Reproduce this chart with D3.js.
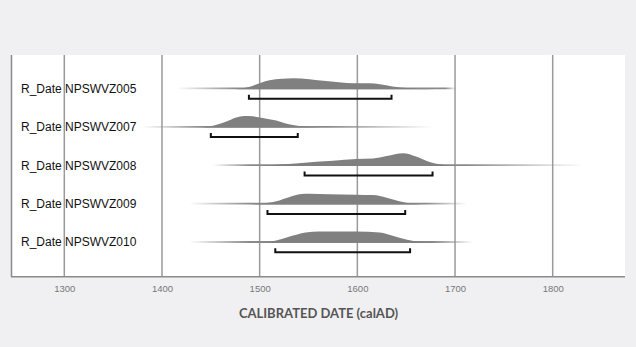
<!DOCTYPE html>
<html>
<head>
<meta charset="utf-8">
<script src="https://cdn.jsdelivr.net/npm/d3@7"></script>
<style>
  body { margin: 0; background: #f0f0f2; }
  svg { display: block; }
</style>
</head>
<body>
<div id="chart"></div>
<script>
// sample labels
const labels = ["R_Date NPSWVZ005", "R_Date NPSWVZ007", "R_Date NPSWVZ008", "R_Date NPSWVZ009", "R_Date NPSWVZ010"];

// 95% ranges (calAD)
const rangeStart = [1489, 1450, 1546, 1508, 1516];
const rangeEnd   = [1635, 1539, 1677, 1649, 1654];

// faint tails of each distribution
const tailStart = [1415, 1380, 1452, 1428, 1428];
const tailEnd   = [1701, 1677, 1831, 1712, 1718];

// probability densities [year, relative prob]
const dens005 = [[1476,0],[1490,0.19],[1500,0.46],[1510,0.69],[1523,0.81],[1534,0.85],[1551,0.77],[1568,0.62],[1589,0.48],[1602,0.46],[1612,0.46],[1623,0.38],[1636,0.21],[1653,0.08],[1671,0.02],[1690,0]];
const dens007 = [[1441,0],[1456,0.21],[1466,0.46],[1476,0.77],[1484,0.89],[1493,0.87],[1503,0.73],[1517,0.54],[1530,0.25],[1544,0.08],[1558,0.02],[1570,0]];
const dens008 = [[1490,0],[1500,0.02],[1520,0.12],[1540,0.22],[1558,0.32],[1575,0.41],[1599,0.54],[1616,0.58],[1630,0.77],[1647,0.98],[1660,0.73],[1674,0.31],[1688,0.10],[1700,0.02],[1712,0]];
const dens009 = [[1490,0],[1500,0.05],[1517,0.25],[1530,0.56],[1541,0.79],[1551,0.82],[1571,0.79],[1599,0.75],[1616,0.72],[1630,0.52],[1643,0.25],[1657,0.05],[1670,0]];
const dens010 = [[1490,0],[1500,0.02],[1517,0.18],[1530,0.46],[1547,0.79],[1561,0.87],[1599,0.87],[1623,0.79],[1637,0.52],[1651,0.23],[1664,0.08],[1678,0]];
const densities = [dens005, dens007, dens008, dens009, dens010];

const tickYears = [1300, 1400, 1500, 1600, 1700, 1800];
const axisTitle = "CALIBRATED DATE (calAD)";

function drawChart() {
    const W = 636, H = 347;
    const plot = { left: 11, right: 625, top: 55, bottom: 277 };

    const svg = d3.select("#chart").append("svg")
        .attr("width", W)
        .attr("height", H);

    svg.append("rect").attr("width", W).attr("height", H).attr("fill", "#f0f0f2");
    svg.append("rect")
        .attr("x", plot.left).attr("y", plot.top)
        .attr("width", plot.right - plot.left).attr("height", plot.bottom - plot.top)
        .attr("fill", "#fff");

    const xScale = d3.scaleLinear().domain([1300, 1800]).range([64.3, 552.7]);
    const yScale = d3.scalePoint().domain(labels).range([plot.top, plot.bottom]).padding(0.89);
    const hScale = d3.scaleLinear().domain([0, 1]).range([0, 13]);

    // grid lines
    svg.append("g")
        .selectAll("line")
        .data(tickYears)
        .enter()
        .append("line")
        .attr("x1", d => xScale(d)).attr("x2", d => xScale(d))
        .attr("y1", plot.top).attr("y2", plot.bottom)
        .attr("stroke", "#9a9a9a")
        .attr("stroke-width", 1.5);

    // left border and bottom axis line
    svg.append("line")
        .attr("x1", plot.left + 0.5).attr("x2", plot.left + 0.5)
        .attr("y1", plot.top).attr("y2", plot.bottom)
        .attr("stroke", "#8a8a8a").attr("stroke-width", 1.5);
    svg.append("line")
        .attr("x1", plot.left).attr("x2", plot.right)
        .attr("y1", plot.bottom - 0.3).attr("y2", plot.bottom - 0.3)
        .attr("stroke", "#8a8a8a").attr("stroke-width", 1.5);

    // x axis tick labels
    const xAxis = d3.axisBottom(xScale).tickValues(tickYears).tickSize(0).tickPadding(9).tickFormat(d3.format("d"));
    const gx = svg.append("g")
        .attr("transform", `translate(0,${plot.bottom - 0.3})`)
        .call(xAxis);
    gx.select(".domain").remove();
    gx.selectAll("text")
        .attr("font-family", "'Liberation Sans', Arial, sans-serif")
        .attr("font-size", 9.5)
        .attr("fill", "#777");

    const defs = svg.append("defs");

    const area = d3.area()
        .x(d => xScale(d[0]))
        .y0(0)
        .y1(d => -hScale(d[1]))
        .curve(d3.curveMonotoneX);

    labels.forEach((lab, i) => {
        const base = yScale(lab);
        const g = svg.append("g").attr("transform", `translate(0,${base})`);
        const dens = densities[i];

        // fading tail
        const x0 = xScale(tailStart[i]), x1 = xScale(tailEnd[i]);
        const a = (xScale(dens[0][0]) - x0) / (x1 - x0);
        const b = (xScale(dens[dens.length - 1][0]) - x0) / (x1 - x0);
        const grad = defs.append("linearGradient")
            .attr("id", "tail" + i)
            .attr("gradientUnits", "userSpaceOnUse")
            .attr("x1", x0).attr("x2", x1).attr("y1", 0).attr("y2", 0);
        grad.append("stop").attr("offset", 0).attr("stop-color", "#8a8a8a").attr("stop-opacity", 0);
        grad.append("stop").attr("offset", a).attr("stop-color", "#8a8a8a").attr("stop-opacity", 1);
        grad.append("stop").attr("offset", b).attr("stop-color", "#8a8a8a").attr("stop-opacity", 1);
        grad.append("stop").attr("offset", 1).attr("stop-color", "#8a8a8a").attr("stop-opacity", 0);
        g.append("line")
            .attr("x1", x0).attr("x2", x1)
            .attr("y1", -0.8).attr("y2", -0.8)
            .attr("stroke", `url(#tail${i})`)
            .attr("stroke-width", 1.8);

        // density
        g.append("path")
            .datum(dens)
            .attr("d", area)
            .attr("fill", "#808080");

        // range bracket
        const rx0 = xScale(rangeStart[i]), rx1 = xScale(rangeEnd[i]);
        const by = 9.5;
        g.append("path")
            .attr("d", `M${rx0},${by - 4}V${by}H${rx1}V${by - 4}`)
            .attr("fill", "none")
            .attr("stroke", "#111")
            .attr("stroke-width", 2);

        // row label
        svg.append("text")
            .attr("x", 21)
            .attr("y", base + 3.6)
            .attr("font-family", "'Liberation Sans', Arial, sans-serif")
            .attr("font-size", 12)
            .attr("fill", "#111")
            .text(lab);
    });

    // axis title
    svg.append("text")
        .attr("x", 318.5)
        .attr("y", 318)
        .attr("text-anchor", "middle")
        .attr("font-family", "Lato, 'Open Sans', sans-serif")
        .attr("font-weight", 700)
        .attr("font-size", 13)
        .attr("fill", "#555")
        .text(axisTitle);
}

drawChart();
</script>
</body>
</html>
